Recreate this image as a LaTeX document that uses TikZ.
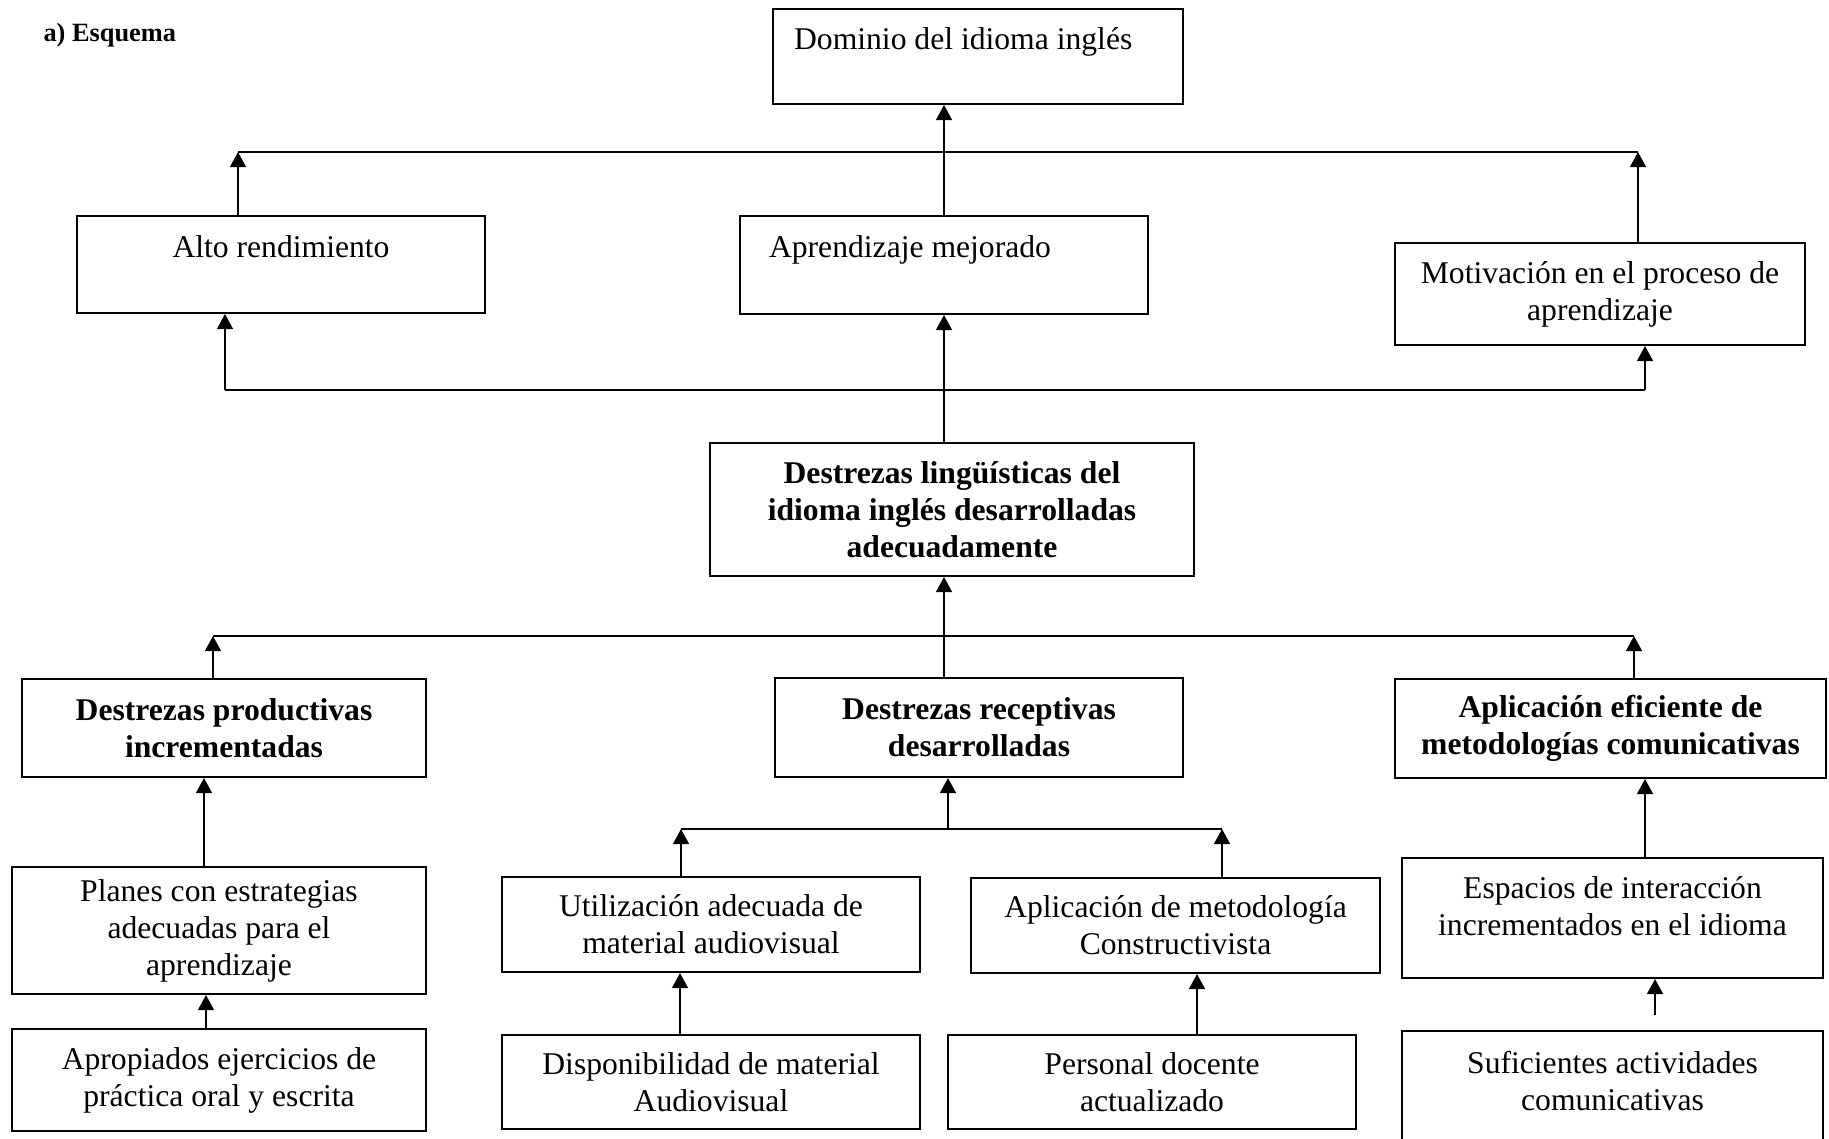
\documentclass[tikz,border=0pt]{standalone}
\usepackage{fontspec}
\setmainfont{Liberation Serif}
\usetikzlibrary{arrows.meta}

\begin{document}
\begin{tikzpicture}[x=0.01333cm, y=-0.01333cm,
    caja/.style={draw, line width=.76pt, align=center, inner sep=0pt, font=\fontsize{12}{14}\selectfont},
    negrita/.style={caja, font=\fontsize{12}{14}\selectfont\bfseries},
    tri/.style={-{Triangle[width=6pt,length=5.7pt]}, line width=.76pt},
    linea/.style={line width=.76pt}]
    \newcommand\Px{0.01333cm}

    \useasboundingbox (0,0) rectangle (1829,1138);

    % Title
    \node[anchor=west, inner sep=0pt, font=\fontsize{10}{12}\selectfont\bfseries] (titulo) at (43,35) {a) Esquema};

    % Effects
    \node[caja, align=flush left, text width=4.905cm, inner xsep=0.28cm, minimum height=95*\Px] (domin) at (978,56.5) {Dominio del idioma inglés\\ \mbox{}};
    \node[caja, minimum width=408*\Px, minimum height=97*\Px] (alto) at (281,264.5) {Alto rendimiento\\ \mbox{}};
    \node[caja, align=flush left, text width=4.666cm, inner xsep=0.387cm, minimum height=98*\Px] (aprend) at (944,265) {Aprendizaje mejorado\\ \mbox{}};
    \node[caja, minimum width=410*\Px, minimum height=102*\Px] (motiv) at (1600,294) {Motivación en el proceso de\\ aprendizaje};

    % Purpose
    \node[negrita, minimum width=484*\Px, minimum height=133*\Px] (ling) at (952,509.5) {Destrezas lingüísticas del\\ idioma inglés desarrolladas\\ adecuadamente};

    % Components
    \node[negrita, minimum width=404*\Px, minimum height=98*\Px] (prod) at (224,728) {Destrezas productivas\\ incrementadas};
    \node[negrita, minimum width=408*\Px, minimum height=99*\Px] (recep) at (979,727.5) {Destrezas receptivas\\ desarrolladas};
    \node[negrita, minimum width=431*\Px, minimum height=99*\Px] (efic) at (1610.5,728.5) {Aplicación eficiente de\\ metodologías comunicativas};

    % Activities
    \node[caja, minimum width=414*\Px, minimum height=127*\Px] (planes) at (219,930.5) {Planes con estrategias\\ adecuadas para el\\ aprendizaje};
    \node[caja, minimum width=418*\Px, minimum height=95*\Px] (utiliz) at (711,924.5) {Utilización adecuada de\\ material audiovisual};
    \node[caja, minimum width=409*\Px, minimum height=95*\Px] (constr) at (1175.5,925.5) {Aplicación de metodología\\ Constructivista};
    \node[caja, minimum width=421*\Px, minimum height=120*\Px] (espac) at (1612.5,918) {Espacios de interacción\\ incrementados en el idioma\\[-5pt] \mbox{}};

    \node[caja, minimum width=414*\Px, minimum height=102*\Px] (aprop) at (219,1080) {Apropiados ejercicios de\\ práctica oral y escrita};
    \node[caja, minimum width=418*\Px, minimum height=94*\Px] (dispon) at (711,1082) {Disponibilidad de material\\ Audiovisual};
    \node[caja, minimum width=408*\Px, minimum height=94*\Px] (person) at (1152,1082) {Personal docente\\ actualizado};
    \node[caja, minimum width=421*\Px, minimum height=136*\Px] (sufic) at (1612.5,1099) {Suficientes actividades\\ comunicativas\\ \mbox{}};

    % Upper branches
    \coordinate (tl) at (238,152);
    \coordinate (tr) at (1638,152);
    \draw[linea] (tl) -- (tr);
    \draw[tri] (alto.north -| tl) -- (tl);
    \draw[tri] (motiv.north -| tr) -- (tr);
    \draw[tri] (aprend.north) -- (aprend.north |- domin.south);

    \coordinate (bl) at (225,390);
    \coordinate (br) at (1645,390);
    \draw[linea] (bl) -- (br);
    \draw[tri] (bl) -- (alto.south -| bl);
    \draw[tri] (br) -- (motiv.south -| br);
    \draw[tri] (ling.north -| aprend.south) -- (aprend.south);

    % Lower branches
    \coordinate (ml) at (213,636);
    \coordinate (mr) at (1634,636);
    \draw[linea] (ml) -- (mr);
    \draw[tri] (prod.north -| ml) -- (ml);
    \draw[tri] (efic.north -| mr) -- (mr);
    \draw[tri] (recep.north -| aprend.south) -- (ling.south -| aprend.south);

    \coordinate (rl) at (681,829);
    \coordinate (rr) at (1222,829);
    \coordinate (rm) at (948,829);
    \draw[linea] (rl) -- (rr);
    \draw[tri] (utiliz.north -| rl) -- (rl);
    \draw[tri] (constr.north -| rr) -- (rr);
    \draw[tri] (rm) -- (rm |- recep.south);

    \foreach \x/\a/\b in {204/planes/prod, 206/aprop/planes, 680/dispon/utiliz, 1197/person/constr, 1645/espac/efic} {
        \draw[tri] (\x,0 |- \a.north) -- (\x,0 |- \b.south);
    }
    \coordinate (sufarr) at (1655,1015);
    \draw[tri] (sufarr) -- (sufarr |- espac.south);

\end{tikzpicture}
\end{document}
